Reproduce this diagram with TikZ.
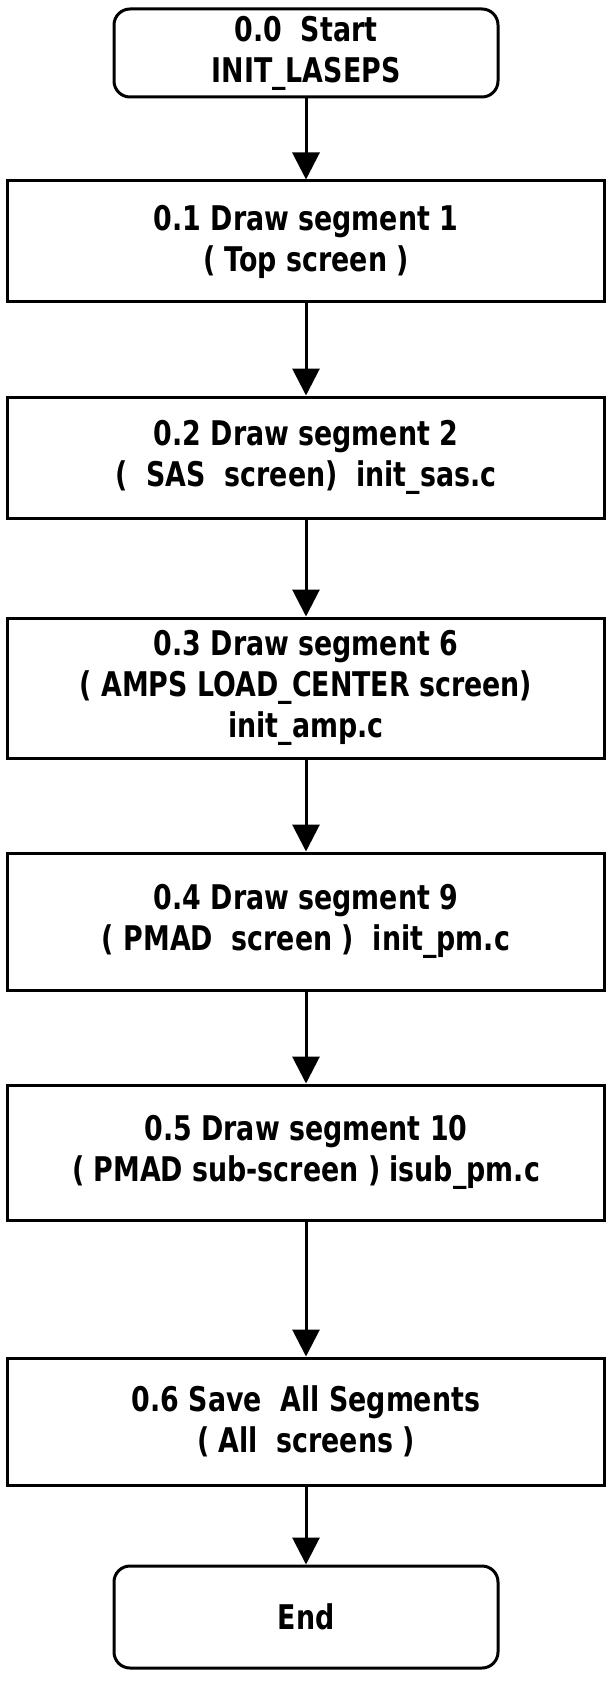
\documentclass[tikz,border=0pt]{standalone}
\usepackage{fontspec}
\setmainfont{DejaVu Sans}
\newfontfamily\flowfont{DejaVu Sans}[FakeStretch=0.79]
\usetikzlibrary{arrows.meta}

\tikzset{
  flow/.style={draw=black, line width=3pt, inner sep=0pt, align=center,
    font=\flowfont\fontsize{34}{41}\selectfont\bfseries, text=black},
  stepbox/.style={flow, rectangle, minimum width=597pt},
  terminal/.style={flow, rectangle, rounded corners=16pt, minimum width=384pt},
  arr/.style={draw=black, line width=3pt, -{Triangle[width=27pt,length=27pt]}}
}

\begin{document}
\begin{tikzpicture}[x=1pt,y=-1pt]
  % page frame
  \useasboundingbox[fill=white] (0,0) rectangle (608,1693);

  % process steps
  \node[terminal, minimum height=88pt]  (start) at (306,53)    {0.0\ \ Start\\INIT\_LASEPS};
  \node[stepbox, minimum height=121pt]  (s1)    at (306,241.5) {0.1 Draw segment 1\\( Top screen )};
  \node[stepbox, minimum height=121pt]  (s2)    at (306,457.5) {0.2 Draw segment 2\\(\ \ SAS\ \ screen)\ \ init\_sas.c};
  \node[stepbox, minimum height=140pt]  (s3)    at (306,688)   {0.3 Draw segment 6\\( AMPS LOAD\_CENTER screen)\\init\_amp.c};
  \node[stepbox, minimum height=137pt]  (s4)    at (306,921.5) {0.4 Draw segment 9\\( PMAD\ \ screen )\ \ init\_pm.c};
  \node[stepbox, minimum height=135pt]  (s5)    at (306,1152.5){0.5 Draw segment 10\\( PMAD sub-screen ) isub\_pm.c};
  \node[stepbox, minimum height=127pt]  (s6)    at (306,1421.5){0.6 Save\ \ All Segments\\( All\ \ screens )};
  \node[terminal, minimum height=102pt] (stop)  at (306,1617)  {End};

  % connectors
  \draw[arr] (start) -- (s1);
  \draw[arr] (s1) -- (s2);
  \draw[arr] (s2) -- (s3);
  \draw[arr] (s3) -- (s4);
  \draw[arr] (s4) -- (s5);
  \draw[arr] (s5) -- (s6);
  \draw[arr] (s6) -- (stop);
\end{tikzpicture}
\end{document}
